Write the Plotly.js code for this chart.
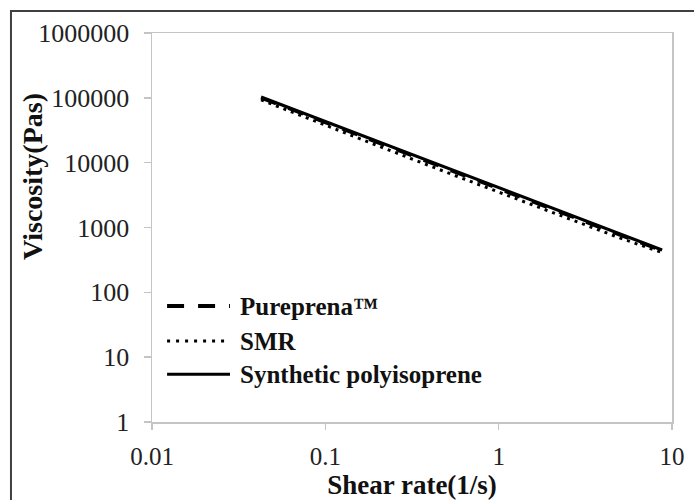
<!DOCTYPE html>
<html>
<head>
<meta charset="utf-8">
<script src="https://cdn.plot.ly/plotly-3.0.1.min.js"></script>
<style>html,body{margin:0;padding:0;background:#fff;}#chart{width:694px;height:500px;}</style>
</head>
<body>
<div id="chart"></div>
<script>
// Data
var shearRate = [0.0426, 0.1, 0.2, 0.5, 1, 2, 5, 8.77];
var pureprena = [100000, 41500, 20500, 8000, 3950, 1950, 770, 440];
var smr = [93000, 37500, 18300, 7100, 3500, 1730, 690, 410];
var synthetic = [103000, 43000, 21300, 8400, 4100, 2030, 800, 450];

var seriesNames = ['Pureprena\u2122', 'SMR', 'Synthetic polyisoprene'];
var xTickVals = [0.01, 0.1, 1, 10];
var xTickText = ['0.01', '0.1', '1', '10'];
var yTickVals = [1, 10, 100, 1000, 10000, 100000, 1000000];
var yTickText = ['1', '10', '100', '1000', '10000', '100000', '1000000'];
var xTitle = 'Shear rate(1/s)';
var yTitle = 'Viscosity(Pas)';

var serif = '"Liberation Serif", "Times New Roman", Times, serif';

var traces = [
  {x: shearRate, y: pureprena, name: seriesNames[0], mode: 'lines',
   line: {color: '#000', width: 3.5, dash: '16px,13px'}},
  {x: shearRate, y: smr, name: seriesNames[1], mode: 'lines',
   line: {color: '#000', width: 3, dash: '3px,5px'}},
  {x: shearRate, y: synthetic, name: seriesNames[2], mode: 'lines',
   line: {color: '#000', width: 3, dash: 'solid'}}
];

// manual legend (long line samples like the reference)
var legRows = [0.298, 0.208, 0.123];
var legDash = ['17px,14px', '3px,6px', 'solid'];
var legWidth = [4, 3, 3];
var shapes = [
  {type: 'rect', xref: 'paper', yref: 'paper', x0: -0.2712, x1: 1.25, y0: -0.3, y1: 1.0566,
   line: {color: '#404040', width: 2}, fillcolor: 'rgba(0,0,0,0)', layer: 'below'}
];
var annotations = [];
for (var i = 0; i < 3; i++) {
  shapes.push({type: 'line', xref: 'paper', yref: 'paper', x0: 0.029, x1: 0.15,
    y0: legRows[i], y1: legRows[i],
    line: {color: '#000', width: legWidth[i], dash: legDash[i]}});
  annotations.push({xref: 'paper', yref: 'paper', x: 0.165, y: legRows[i], xanchor: 'left', yanchor: 'middle',
    text: '<b>' + seriesNames[i] + '</b>', showarrow: false,
    font: {family: serif, size: 25, color: '#111'}});
}
// y-axis title placed like the reference (close to the tick labels)
annotations.push({xref: 'paper', yref: 'paper', x: -0.2288, y: 0.63, xanchor: 'center', yanchor: 'middle',
  text: '<b>' + yTitle + '</b>', textangle: -90, showarrow: false,
  font: {family: serif, size: 28, color: '#111'}});

var layout = {
  width: 694, height: 500,
  margin: {l: 152, r: 22, t: 33, b: 78},
  paper_bgcolor: '#fff', plot_bgcolor: '#fff',
  showlegend: false,
  xaxis: {
    type: 'log', range: [-2, 1], tickmode: 'array', tickvals: xTickVals, ticktext: xTickText,
    showgrid: false, zeroline: false, showline: true, linecolor: '#c4c4c4', linewidth: 1.5, mirror: true,
    ticks: 'outside', ticklen: 6, tickcolor: '#c4c4c4', tickwidth: 1.5, ticklabelstandoff: 5,
    tickfont: {family: serif, size: 25, color: '#222'},
    title: {text: '<b>' + xTitle + '</b>', font: {family: serif, size: 27, color: '#111'}, standoff: 8}
  },
  yaxis: {
    type: 'log', range: [0, 6], tickmode: 'array', tickvals: yTickVals, ticktext: yTickText,
    showgrid: false, zeroline: false, showline: true, linecolor: '#c4c4c4', linewidth: 1.5, mirror: true,
    ticks: 'outside', ticklen: 7, tickcolor: '#c4c4c4', tickwidth: 1.5, ticklabelstandoff: 9,
    tickfont: {family: serif, size: 26, color: '#222'}
  },
  shapes: shapes,
  annotations: annotations
};

Plotly.newPlot('chart', traces, layout, {displayModeBar: false, staticPlot: true});
</script>
</body>
</html>
